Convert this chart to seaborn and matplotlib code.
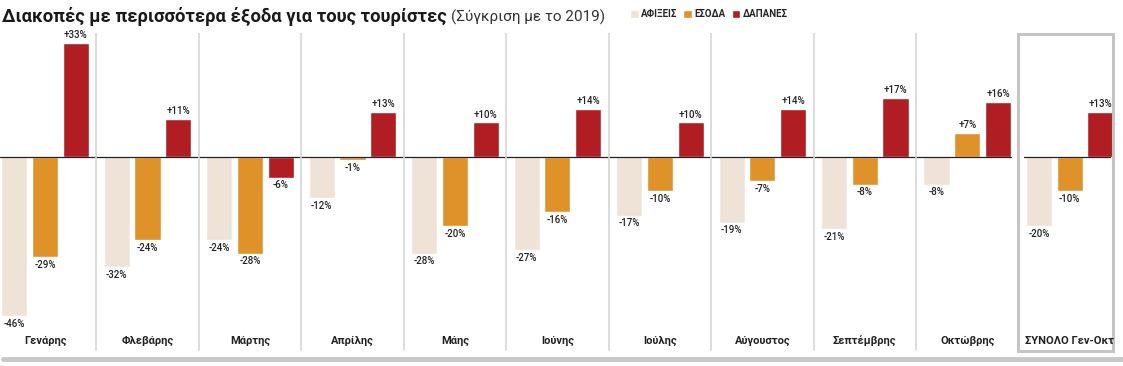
import pandas as pd
import matplotlib.pyplot as plt
import seaborn as sns
from matplotlib.patches import Rectangle

months = ["Γενάρης", "Φλεβάρης", "Μάρτης", "Απρίλης", "Μάης", "Ιούνης",
          "Ιούλης", "Αύγουστος", "Σεπτέμβρης", "Οκτώβρης", "ΣΥΝΟΛΟ Γεν-Οκτ"]
afixeis = [-46, -32, -24, -12, -28, -27, -17, -19, -21, -8, -20]
esoda = [-29, -24, -28, -1, -20, -16, -10, -7, -8, 7, -10]
dapanes = [33, 11, -6, 13, 10, 14, 10, 14, 17, 16, 13]
series = ["ΑΦΙΞΕΙΣ", "ΕΣΟΔΑ", "ΔΑΠΑΝΕΣ"]
colors = ["#efe3d7", "#e0922a", "#b01e24"]

df = pd.DataFrame({
    "month": months * 3,
    "series": [series[0]] * 11 + [series[1]] * 11 + [series[2]] * 11,
    "value": afixeis + esoda + dapanes,
})

sns.set_style("white")
plt.rcParams["font.family"] = ["Roboto", "DejaVu Sans"]

fig = plt.figure(figsize=(11.23, 3.66), dpi=100)
ax = fig.add_axes([0, 1 - 352 / 366, 1, 319 / 366])

sns.barplot(data=df, x="month", y="value", hue="series", order=months,
            hue_order=series, palette=colors, saturation=1, width=0.9,
            gap=0.15, errorbar=None, ax=ax)

for cont, vals in zip(ax.containers, [afixeis, esoda, dapanes]):
    ax.bar_label(cont, labels=[f"{v:+d}%" for v in vals], padding=2,
                 fontsize=7, fontweight="medium", color="#222222")

ax.set_xlim(-0.44, 10.52)
ax.set_ylim(-56.5, 35.9)

# zero line
ax.plot([-0.44, 9.43], [0, 0], color="#222222", lw=0.9)
ax.plot([9.55, 10.39], [0, 0], color="#222222", lw=0.9)

# separators between months
for i in range(9):
    ax.axvline(i + 0.5, ymin=0.005, ymax=1, color="#d6d6d6", lw=1.2)

# box around the total
ax.add_patch(Rectangle((9.5, -56.3), 0.92, 91.9, fill=False,
                       edgecolor="#c4c4c4", lw=2.2, clip_on=False))

# month names
for i, m in enumerate(months):
    ax.text(i, -53.3, m, ha="center", va="center", fontsize=8,
            fontweight="bold", color="#222222")

ax.set_xticks([])
ax.set_yticks([])
ax.set_xlabel("")
ax.set_ylabel("")
sns.despine(ax=ax, left=True, bottom=True)

# legend
handles, labels = ax.get_legend_handles_labels()
ax.get_legend().remove()
fig.legend(handles, labels, loc="center left",
           bbox_to_anchor=(630 / 1123, 1 - 14 / 366), ncol=3, frameon=False,
           handlelength=0.9, handleheight=0.9, handletextpad=0.25,
           columnspacing=0.6, borderpad=0, borderaxespad=0,
           prop={"size": 7, "weight": "bold"})

# title
fig.text(0.002, 1 - 17 / 366, "Διακοπές με περισσότερα έξοδα για τους τουρίστες",
         fontsize=13.2, fontweight="bold", color="#1a1a1a", va="center")
fig.text(451 / 1123, 1 - 17 / 366, "(Σύγκριση με το 2019)",
         fontsize=11, color="#333333", va="center")

# bottom band
fig.add_artist(plt.Line2D([0.003, 1], [1 - 359 / 366, 1 - 359 / 366],
                          color="#c8c8c8", lw=3.5))

fig.savefig("out.png", dpi=100)
